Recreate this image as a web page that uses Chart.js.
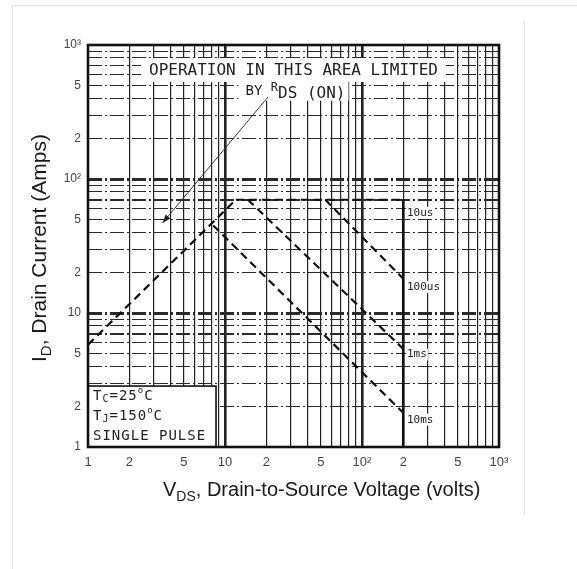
<!DOCTYPE html>
<html>
<head>
<meta charset="utf-8">
<script src="https://cdn.jsdelivr.net/npm/chart.js@4.4.0/dist/chart.umd.min.js"></script>
<style>
    body { margin: 0; background: #fff; }
    #wrap { position: relative; width: 577px; height: 569px; }
    .frame { position: absolute; background: #e3e3e3; }
</style>
</head>
<body>
<div id="wrap">
    <canvas id="soaChart" width="577" height="569"></canvas>
    <div class="frame" style="left:12px;top:5px;width:1px;height:564px"></div>
    <div class="frame" style="left:12px;top:5px;width:565px;height:1px"></div>
    <div class="frame" style="left:524px;top:20px;width:1px;height:495px"></div>
</div>
<script>
// tick values / labels (log-log paper, 3 decades each way)
var xTicks = [1, 2, 3, 4, 5, 6, 7, 8, 9, 10, 20, 30, 40, 50, 60, 70, 80, 90, 100, 200, 300, 400, 500, 600, 700, 800, 900, 1000];
var yTicks = [1, 2, 3, 4, 5, 6, 7, 8, 9, 10, 20, 30, 40, 50, 60, 70, 80, 90, 100, 200, 300, 400, 500, 600, 700, 800, 900, 1000];
var xTickLabels = {1: '1', 2: '2', 5: '5', 10: '10', 20: '2', 50: '5', 100: '10²', 200: '2', 500: '5', 1000: '10³'};
var yTickLabels = {1: '1', 2: '2', 5: '5', 10: '10', 20: '2', 50: '5', 100: '10²', 200: '2', 500: '5', 1000: '10³'};

// boundary lines, volts / amps
var rdsV = [1, 12];          var rdsI = [5.8, 70];
var limitV = [12, 200];      var limitI = [70, 70];
var bvdssV = [200, 200];     var bvdssI = [70, 1];
var us100V = [54, 200];      var us100I = [70, 18];
var ms1V = [14.7, 200];      var ms1I = [70, 5.4];
var ms10V = [8.2, 200];      var ms10I = [45, 1.8];

// pulse labels, placed just right of the 200 V line
var pulseNames = ['10us', '100us', '1ms', '10ms'];
var pulseLabelV = [213, 213, 213, 213];
var pulseLabelI = [56, 15.6, 4.9, 1.6];

// notes
var noteLineI = [640, 448];
var arrowV = [20.6, 3.5];
var arrowI = [409, 47];
var condBoxV = [1, 8.6];
var condBoxI = [1, 2.85];

function pts(xs, ys) {
    return xs.map(function (x, i) { return {x: x, y: ys[i]}; });
}

function dashed(data) {
    return {data: data, borderColor: '#111', borderWidth: 2.2, borderDash: [8, 5], showLine: true, pointRadius: 0, fill: false};
}

// draws a run of [text, font, dy] pieces left to right
function runText(ctx, x, y, parts) {
    parts.forEach(function (p) {
        ctx.font = p[1];
        ctx.fillText(p[0], x, y + (p[2] || 0));
        x += ctx.measureText(p[0]).width;
    });
    return x;
}

var notesPlugin = {
    id: 'notes',
    beforeDatasetsDraw: function (chart) {
        var ctx = chart.ctx, xs = chart.scales.x, ys = chart.scales.y, area = chart.chartArea;
        var cx = (area.left + area.right) / 2;
        ctx.save();
        ctx.fillStyle = '#fff';
        // clear grid under the R_DS(on) note
        ctx.font = '16px "DejaVu Sans Mono"';
        var w1 = ctx.measureText('OPERATION IN THIS AREA LIMITED').width;
        var y1 = ys.getPixelForValue(noteLineI[0]);
        var y2 = ys.getPixelForValue(noteLineI[1]);
        ctx.fillRect(cx - w1 / 2 - 8, y1 - 13, w1 + 16, 24);
        ctx.fillRect(cx - 55, y2 - 11, 110, 20);
        // small clearings behind the pulse labels
        ctx.font = '11px "DejaVu Sans Mono"';
        for (var i = 0; i < pulseNames.length; i++) {
            var lx = xs.getPixelForValue(pulseLabelV[i]), ly = ys.getPixelForValue(pulseLabelI[i]);
            ctx.fillRect(lx - 1, ly - 6, ctx.measureText(pulseNames[i]).width + 2, 12);
        }
        // condition box
        var bx0 = xs.getPixelForValue(condBoxV[0]), bx1 = xs.getPixelForValue(condBoxV[1]);
        var by0 = ys.getPixelForValue(condBoxI[1]), by1 = ys.getPixelForValue(condBoxI[0]);
        ctx.fillRect(bx0, by0, bx1 - bx0, by1 - by0);
        ctx.strokeStyle = '#111';
        ctx.lineWidth = 1.6;
        ctx.strokeRect(bx0, by0, bx1 - bx0, by1 - by0);
        ctx.restore();
    },
    afterDatasetsDraw: function (chart) {
        var ctx = chart.ctx, xs = chart.scales.x, ys = chart.scales.y, area = chart.chartArea;
        var cx = (area.left + area.right) / 2;
        ctx.save();
        ctx.fillStyle = '#222';
        ctx.textBaseline = 'middle';

        // R_DS(on) note
        ctx.textAlign = 'center';
        ctx.font = '16px "DejaVu Sans Mono"';
        ctx.fillText('OPERATION IN THIS AREA LIMITED', cx, ys.getPixelForValue(noteLineI[0]));
        ctx.textAlign = 'left';
        var y2 = ys.getPixelForValue(noteLineI[1]);
        runText(ctx, cx - 48, y2, [['BY ', '14px "DejaVu Sans Mono"', 0], ['R', '12px "DejaVu Sans Mono"', -4], ['DS (ON)', '16px "DejaVu Sans Mono"', 2]]);

        // arrow
        var ax0 = xs.getPixelForValue(arrowV[0]), ay0 = ys.getPixelForValue(arrowI[0]);
        var ax1 = xs.getPixelForValue(arrowV[1]), ay1 = ys.getPixelForValue(arrowI[1]);
        ctx.strokeStyle = '#333';
        ctx.lineWidth = 1;
        ctx.beginPath();
        ctx.moveTo(ax0, ay0);
        ctx.lineTo(ax1, ay1);
        ctx.stroke();
        var ang = Math.atan2(ay1 - ay0, ax1 - ax0);
        ctx.beginPath();
        ctx.moveTo(ax1, ay1);
        ctx.lineTo(ax1 - 9 * Math.cos(ang - 0.35), ay1 - 9 * Math.sin(ang - 0.35));
        ctx.lineTo(ax1 - 9 * Math.cos(ang + 0.35), ay1 - 9 * Math.sin(ang + 0.35));
        ctx.closePath();
        ctx.fillStyle = '#222';
        ctx.fill();

        // pulse width labels
        ctx.font = '11px "DejaVu Sans Mono"';
        for (var i = 0; i < pulseNames.length; i++) {
            ctx.fillText(pulseNames[i], xs.getPixelForValue(pulseLabelV[i]), ys.getPixelForValue(pulseLabelI[i]));
        }

        // conditions
        var bx = xs.getPixelForValue(condBoxV[0]) + 5;
        var by = ys.getPixelForValue(condBoxI[1]);
        if ('letterSpacing' in ctx) ctx.letterSpacing = '1px';
        runText(ctx, bx, by + 10, [['T', '14px "DejaVu Sans Mono"', 0], ['C', '10px "DejaVu Sans Mono"', 3], ['=25', '14px "DejaVu Sans Mono"', 0], ['o', '9px "DejaVu Sans Mono"', -5], ['C', '14px "DejaVu Sans Mono"', 0]]);
        runText(ctx, bx, by + 30, [['T', '14px "DejaVu Sans Mono"', 0], ['J', '10px "DejaVu Sans Mono"', 3], ['=150', '14px "DejaVu Sans Mono"', 0], ['o', '9px "DejaVu Sans Mono"', -5], ['C', '14px "DejaVu Sans Mono"', 0]]);
        runText(ctx, bx, by + 50, [['SINGLE PULSE', '14px "DejaVu Sans Mono"', 0]]);
        if ('letterSpacing' in ctx) ctx.letterSpacing = '0px';
        ctx.restore();
    },
    afterDraw: function (chart) {
        var ctx = chart.ctx, area = chart.chartArea;
        ctx.save();
        // heavy frame round the plot
        ctx.strokeStyle = '#111';
        ctx.lineWidth = 2.6;
        ctx.strokeRect(area.left, area.top, area.right - area.left, area.bottom - area.top);

        // axis titles with subscripts
        ctx.fillStyle = '#1a1a1a';
        ctx.textAlign = 'left';
        ctx.textBaseline = 'alphabetic';
        runText(ctx, 163, 496, [['V', '20px "Liberation Sans"', 0], ['DS', '14px "Liberation Sans"', 5], [', Drain-to-Source Voltage (volts)', '20px "Liberation Sans"', 0]]);
        ctx.translate(46, 362);
        ctx.rotate(-Math.PI / 2);
        runText(ctx, 0, 0, [['I', '21px "Liberation Sans"', 0], ['D', '15px "Liberation Sans"', 5], [', Drain Current (Amps)', '21px "Liberation Sans"', 0]]);
        ctx.restore();
    }
};

var ctx = document.getElementById('soaChart').getContext('2d');
var myChart = new Chart(ctx, {
    type: 'scatter',
    data: {
        datasets: [
            dashed(pts(rdsV, rdsI)),
            dashed(pts(limitV, limitI)),
            {data: pts(bvdssV, bvdssI), borderColor: '#111', borderWidth: 2.6, showLine: true, pointRadius: 0, fill: false},
            dashed(pts(us100V, us100I)),
            dashed(pts(ms1V, ms1I)),
            dashed(pts(ms10V, ms10I))
        ]
    },
    options: {
        responsive: false,
        animation: false,
        events: [],
        layout: {padding: {top: 45, right: 78, left: 0, bottom: 0}},
        plugins: {legend: {display: false}, tooltip: {enabled: false}},
        scales: {
            x: {
                type: 'logarithmic',
                min: 1,
                max: 1000,
                afterBuildTicks: function (scale) { scale.ticks = xTicks.map(function (v) { return {value: v}; }); },
                afterFit: function (scale) { scale.height = 122; },
                border: {display: false},
                grid: {
                    drawTicks: false,
                    color: '#222',
                    lineWidth: function (c) {
                        var v = c.tick && c.tick.value;
                        return (v === 10 || v === 100) ? 2.6 : 1.2;
                    }
                },
                ticks: {
                    autoSkip: false,
                    maxRotation: 0,
                    padding: 8,
                    color: '#444',
                    font: {family: 'Liberation Sans', size: 13},
                    callback: function (value) { return xTickLabels[value] || ''; }
                }
            },
            y: {
                type: 'logarithmic',
                min: 1,
                max: 1000,
                afterBuildTicks: function (scale) { scale.ticks = yTicks.map(function (v) { return {value: v}; }); },
                afterFit: function (scale) { scale.width = 88; },
                border: {display: false, dash: [14, 3, 2, 3]},
                grid: {
                    drawTicks: false,
                    color: '#2a2a2a',
                    lineWidth: function (c) {
                        var v = c.tick && c.tick.value;
                        if (v === 10 || v === 100) return 3;
                        if (v === 7 || v === 70) return 2;
                        return 1.1;
                    }
                },
                ticks: {
                    autoSkip: false,
                    padding: 7,
                    color: '#444',
                    font: {family: 'Liberation Sans', size: 12},
                    callback: function (value) { return yTickLabels[value] || ''; }
                }
            }
        }
    },
    plugins: [notesPlugin]
});
</script>
</body>
</html>
